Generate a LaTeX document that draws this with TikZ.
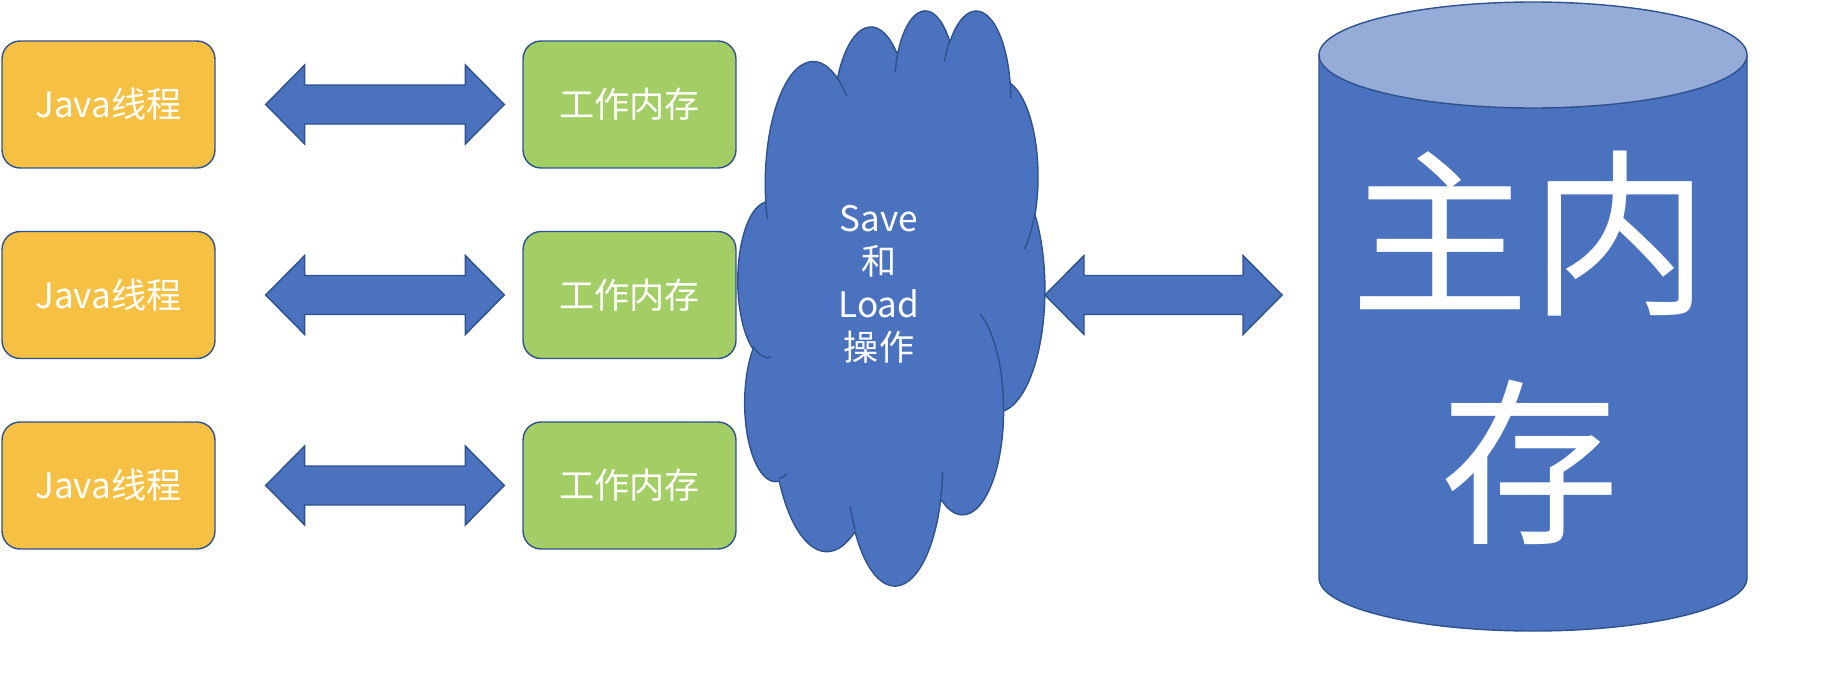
\documentclass[tikz,border=0pt]{standalone}
\usepackage{fontspec}
\newfontfamily\cjk{Noto Sans CJK SC}
\usetikzlibrary{calc}

\definecolor{thread}{HTML}{F6C143}
\definecolor{work}{HTML}{A3CD65}
\definecolor{memblue}{HTML}{4A72BE}
\definecolor{lidblue}{HTML}{95ABD8}
\definecolor{edge}{HTML}{2F528F}

\tikzset{
  jbox/.style={draw=edge, fill=thread, line width=0.8pt, rounded corners=0.36cm,
    minimum width=4.26cm, minimum height=2.54cm, text=white,
    font=\cjk\fontsize{20pt}{24pt}\selectfont},
  wbox/.style={jbox, fill=work},
  barrow/.style={draw=edge, fill=memblue, line width=0.8pt},
  cloudfill/.style={draw=edge, fill=memblue, line width=0.8pt},
  crease/.style={draw=edge, line width=0.8pt},
}

% one puff of the cloud: x radius, y radius, start and sweep (seen angles)
\newcommand\puff[4]{%
  arc[x radius=#1, y radius=#2,
      start angle={atan2(#1*sin(#3),#2*cos(#3))},
      delta angle={mod(atan2(#1*sin(#3+#4),#2*cos(#3+#4))-atan2(#1*sin(#3),#2*cos(#3))+720,360)}]}

% fat double arrow between two tips
\newcommand\bigarrow[2]{%
  \draw[barrow] (#1) -- ++(39,-39.5) -- ++(0,20) -- ($(#2)+(-39,-19.5)$)
    -- ++(0,-20) -- (#2) -- ++(-39,39.5) -- ++(0,-20) -- ($(#1)+(39,19.5)$)
    -- ++(0,20) -- cycle;}

\begin{document}
\begin{tikzpicture}[x=0.02cm, y=-0.02cm]
\useasboundingbox (0,0) rectangle (1842,690);

\node[jbox] (j1) at (108.5,104.5) {Java线程};
\node[jbox] (j2) at (108.5,295)   {Java线程};
\node[jbox] (j3) at (108.5,485.5) {Java线程};

\node[wbox] (w1) at (629.5,104.5) {工作内存};
\node[wbox] (w2) at (629.5,295)   {工作内存};
\node[wbox] (w3) at (629.5,485.5) {工作内存};

\coordinate (a1) at ($(j1.east)+(50,0)$);
\coordinate (b1) at ($(w1.west)+(-18,0)$);
\coordinate (a2) at ($(j2.east)+(50,0)$);
\coordinate (b2) at ($(w2.west)+(-18,0)$);
\coordinate (a3) at ($(j3.east)+(50,0)$);
\coordinate (b3) at ($(w3.west)+(-18,0)$);
\bigarrow{a1}{b1}
\bigarrow{a2}{b2}
\bigarrow{a3}{b3}

% cloud
\begin{scope}[shift={(738,9)}, x=0.014213cm, y=-0.026620cm]
\draw[cloudfill] (39,143.7) \puff{67.53}{91.90}{-190.4875}{123.7805}
  \puff{53.33}{72.67}{-144.1024}{89.9452}
  \puff{43.65}{59.45}{-145.8079}{99.7230}
  \puff{48.57}{65.95}{-130.9861}{117.2417}
  \puff{53.33}{72.73}{-78.7089}{109.0269}
  \puff{67.75}{92.20}{-46.2673}{130.2690}
  \puff{57.85}{78.67}{0.6250}{114.0333}
  \puff{67.52}{92.15}{22.4516}{115.1726}
  \puff{77.20}{105.43}{66.2426}{75.7110}
  \puff{43.60}{59.18}{-274.9421}{146.7356}
  \puff{43.45}{59.45}{-246.8285}{152.5189} -- cycle;
\draw[crease] (46.93,261.77) \puff{43.45}{59.45}{86.7420}{26.4295}
  (69.28,348.99) \puff{43.60}{59.18}{73.6105}{11.4475}
  (164.78,390.90) \puff{67.52}{92.15}{137.6242}{14.0811}
  (288.27,347.51) \puff{67.52}{92.15}{6.4533}{15.9984}
  (341.29,229.54) \puff{57.85}{78.67}{-70.2924}{70.9174}
  (417.98,153.54) \puff{53.33}{72.73}{30.3180}{27.7515}
  (383.24,54.26) \puff{48.57}{65.95}{-13.7443}{14.8589}
  (290.78,39.52) \puff{48.57}{65.95}{-149.1815}{18.1954}
  (221.41,47.20) \puff{43.65}{59.45}{-163.4943}{17.6864}
  (140.00,51.92) \puff{67.53}{91.90}{-66.7070}{12.3194}
  (41.27,157.89) \puff{67.53}{91.90}{157.6544}{11.8582};
\end{scope}
\node[text=white, align=center, font=\cjk\fontsize{20pt}{24.5pt}\selectfont] (sl) at (879,284) {Save\\和\\Load\\操作};

% main memory
\fill[memblue] (1319,55) -- (1319,578) arc[start angle=180, end angle=0, x radius=214, y radius=53] -- (1747,55) -- cycle;
\draw[crease] (1319,55) -- (1319,578) arc[start angle=180, end angle=0, x radius=214, y radius=53] -- (1747,55);
\draw[crease, fill=lidblue] (1533,55) ellipse[x radius=214, y radius=53];
\node[text=white, align=center, font=\cjk\fontsize{102pt}{130pt}\selectfont] (mm) at (1530,348) {主内\\存};

\coordinate (sr) at (1045,295);
\coordinate (ml) at (1282,295);
\bigarrow{sr}{ml}
\end{tikzpicture}
\end{document}
